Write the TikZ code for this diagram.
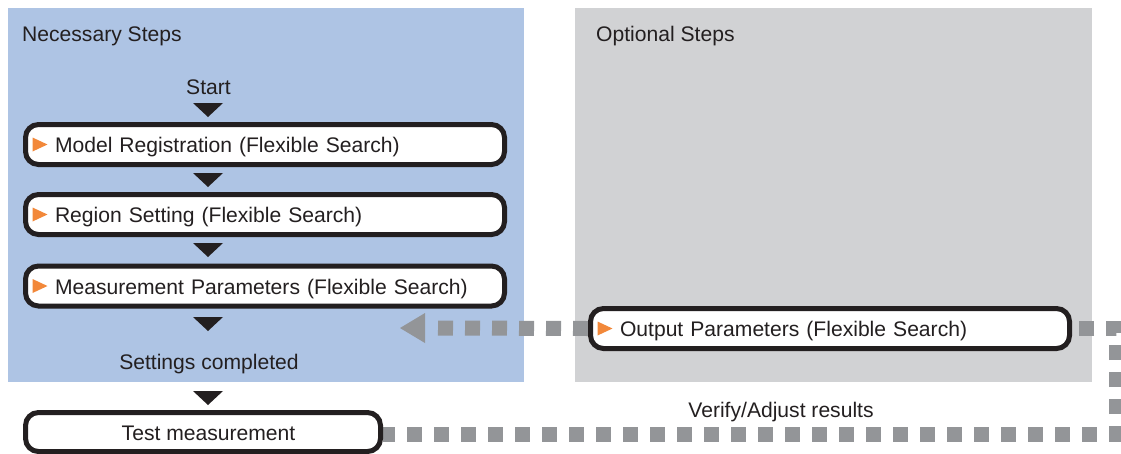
\documentclass[tikz,border=0pt]{standalone}
\usepackage{fontspec}
\setmainfont{Liberation Sans}
\definecolor{panelblue}{RGB}{174,196,228}
\definecolor{panelgray}{RGB}{209,210,212}
\definecolor{dashgray}{RGB}{147,149,152}
\definecolor{markorange}{RGB}{242,136,58}
\definecolor{ink}{RGB}{35,31,32}
\pgfdeclarelayer{panels}
\pgfdeclarelayer{dashes}
\pgfsetlayers{panels,dashes,main}
\tikzset{
  txt/.style={font=\fontsize{21.1}{25}\selectfont, text=ink, inner sep=0pt},
  stepbox/.style={draw=ink, fill=white, line width=5pt, rounded corners=13pt,
    minimum width=479pt, minimum height=40pt, text width=420pt, align=left,
    inner xsep=29.5pt, inner ysep=0pt, text height=16pt, text depth=0pt,
    font=\fontsize{21.1}{25}\selectfont, text=ink},
  testbox/.style={draw=ink, fill=white, line width=5pt, rounded corners=13pt,
    minimum width=355pt, minimum height=39pt, inner sep=0pt,
    text height=16pt, text depth=0pt, font=\fontsize{21.1}{25}\selectfont, text=ink},
  downtri/.style={fill=ink},
  marker/.style={fill=markorange},
  graydash/.style={draw=dashgray, line width=15pt, dash pattern=on 15pt off 12pt},
}
\begin{document}
\begin{tikzpicture}[x=1pt,y=-1pt]
\useasboundingbox (0,0) rectangle (1121,453);
% panels
\begin{pgfonlayer}{panels}
\fill[panelblue] (8,8) rectangle (524,382);
\fill[panelgray] (575,8) rectangle (1092,382);
\end{pgfonlayer}
\node[txt, anchor=base west] (nec) at (22,41) {Necessary Steps};
\node[txt, anchor=base west] (opt) at (596,41) {Optional Steps};
\node[txt, anchor=base] (start) at (208.5,94) {Start};
% boxes
\node[stepbox] (m1) at (265,144.5) {Model Registration (Flexible Search)};
\node[stepbox] (m2) at (265,214.5) {Region Setting (Flexible Search)};
\node[stepbox] (m3) at (265,286) {Measurement Parameters (Flexible Search)};
\node[stepbox] (out) at (830,328.5) {Output Parameters (Flexible Search)};
\node[testbox] (test) at (203,432) {\hspace*{11pt}Test measurement};
\node[txt, anchor=base] (done) at (209,369) {Settings completed};
\node[txt, anchor=base] (verify) at (781,417) {Verify/Adjust results};
% gray dashed connectors
\coordinate (aend) at (438,328);
\coordinate (atip) at (400,328);
\coordinate (c1) at (1116,434);
\coordinate (c2) at (1116,328);
\begin{pgfonlayer}{dashes}
\draw[graydash] (out.west) -- (aend);
\fill[dashgray] (atip) -- ++(25,-15) -- ++(0,30) -- cycle;
\draw[graydash, dash phase=3pt] (test.east |- c1) -- (c1) -- (c2) -- (out.east |- c2);
\end{pgfonlayer}
% orange markers
\foreach \n in {m1,m2,m3,out}{
  \fill[marker] ([xshift=9.5pt]\n.west) ++(0,-7) -- ++(15,7) -- ++(-15,7) -- cycle;
}
% black flow triangles
\foreach \y in {103,173,243,317,391}{
  \fill[downtri] (193,\y) -- (223,\y) -- (208,\y+14) -- cycle;
}
\end{tikzpicture}
\end{document}
